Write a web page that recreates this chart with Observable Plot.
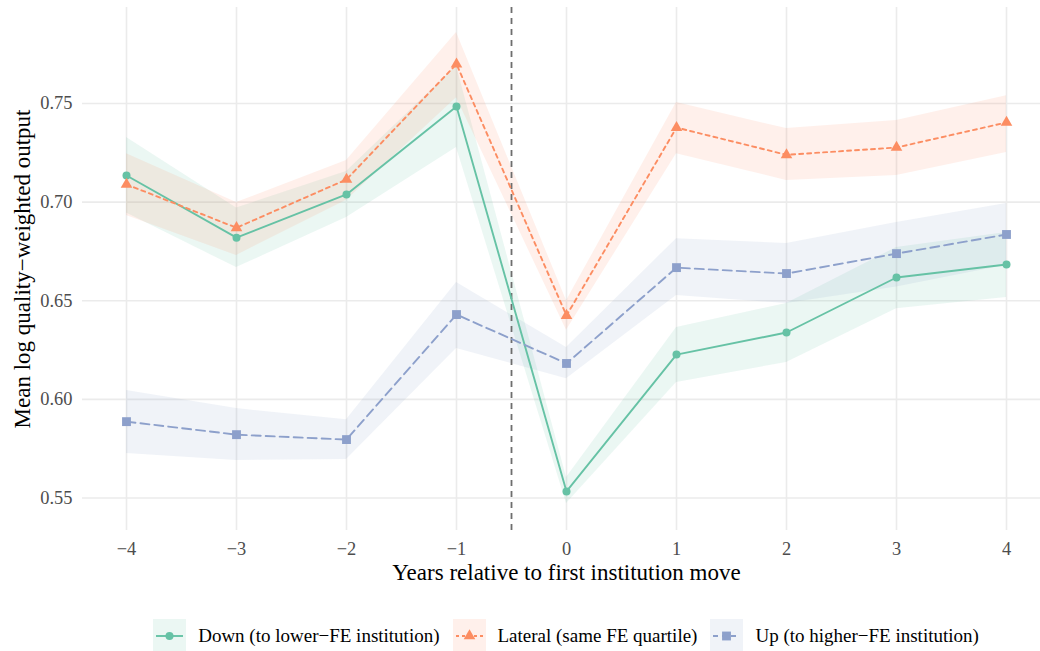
<!DOCTYPE html>
<html><head><meta charset="utf-8">
<script src="https://cdn.jsdelivr.net/npm/d3@7"></script>
<script src="https://cdn.jsdelivr.net/npm/@observablehq/plot@0.6"></script>
<style>
body{margin:0;background:#fff;font-family:"Liberation Serif","Times New Roman",serif;}
#wrap{position:relative;width:1040px;height:651px;overflow:hidden;}
#chart{position:absolute;left:0;top:0;}
#legend{position:absolute;left:0;top:619px;width:1132px;height:34px;display:flex;justify-content:center;align-items:center;font-family:"Liberation Serif","Times New Roman",serif;font-size:19px;color:#000;}
.item{display:flex;align-items:center;margin:0 6.5px;}
.item svg{margin-right:12px;}
</style>
</head><body><div id="wrap"><div id="chart"></div><div id="legend"></div></div>
<script>
const years = [-4, -3, -2, -1, 0, 1, 2, 3, 4];
const seriesNames = ["Down (to lower\u2212FE institution)", "Lateral (same FE quartile)", "Up (to higher\u2212FE institution)"];
const seriesColors = ["#66c2a5", "#fc8d62", "#8da0cb"];

const downMean = [0.7135, 0.682, 0.7039, 0.7485, 0.5533, 0.6227, 0.6339, 0.6618, 0.6684];
const downLo   = [0.6945, 0.6668, 0.6922, 0.7277, 0.5472, 0.6085, 0.6187, 0.646, 0.6516];
const downHi   = [0.7328, 0.697, 0.7156, 0.769, 0.5604, 0.6364, 0.6486, 0.677, 0.6846];

const latMean = [0.709, 0.687, 0.7115, 0.770, 0.6425, 0.7378, 0.724, 0.7277, 0.7404];
const latLo   = [0.6932, 0.673, 0.701, 0.753, 0.635, 0.7246, 0.711, 0.7135, 0.7252];
const latHi   = [0.7246, 0.6998, 0.7211, 0.786, 0.650, 0.7505, 0.7373, 0.7414, 0.754];

const upMean = [0.5887, 0.5821, 0.5796, 0.643, 0.6182, 0.6668, 0.6638, 0.6739, 0.6836];
const upLo   = [0.5725, 0.569, 0.5695, 0.6258, 0.6105, 0.6526, 0.6486, 0.657, 0.668];
const upHi   = [0.6045, 0.5953, 0.5897, 0.6592, 0.6263, 0.6815, 0.679, 0.6897, 0.6993];

const yTicks = [0.55, 0.60, 0.65, 0.70, 0.75];
const moveLine = [-0.5];
const xTitle = "Years relative to first institution move";
const yTitle = "Mean log quality\u2212weighted output";

const series = [
  {name: seriesNames[0], color: seriesColors[0], mean: downMean, lo: downLo, hi: downHi, symbol: "circle", dash: null, r: 4},
  {name: seriesNames[1], color: seriesColors[1], mean: latMean, lo: latLo, hi: latHi, symbol: "triangle", dash: "4,4", r: 4.3},
  {name: seriesNames[2], color: seriesColors[2], mean: upMean, lo: upLo, hi: upHi, symbol: "square", dash: "9,5", r: 5}
];
const rowsOf = s => years.map((t, i) => ({series: s.name, year: t, mean: s.mean[i], lo: s.lo[i], hi: s.hi[i]}));

const fmtX = d => d < 0 ? "\u2212" + Math.abs(d) : String(d);

const marks = [
  Plot.ruleY(yTicks, {stroke: "#ebebeb", strokeWidth: 1.6}),
  Plot.ruleX(years, {stroke: "#ebebeb", strokeWidth: 1.6}),
  ...series.map(s => Plot.areaY(rowsOf(s), {x: "year", y1: "lo", y2: "hi", fill: s.color, fillOpacity: 0.13})),
  Plot.ruleX(moveLine, {stroke: "#6e6e6e", strokeWidth: 1.8, strokeDasharray: "6,5"}),
  ...series.map(s => Plot.line(rowsOf(s), {x: "year", y: "mean", stroke: s.color, strokeWidth: 1.9, strokeDasharray: s.dash})),
  ...series.map(s => Plot.dot(rowsOf(s), {x: "year", y: "mean", fill: s.color, stroke: "none", symbol: () => s.symbol, r: s.r})),
  Plot.axisX(years, {tickSize: 0, tickPadding: 11, tickFormat: fmtX, fontSize: 18.4, fill: "#4d4d4d", label: null}),
  Plot.axisY(yTicks, {tickSize: 0, tickPadding: 10, tickFormat: d3.format(".2f"), fontSize: 18.4, fill: "#4d4d4d", label: null}),
  Plot.text([xTitle], {frameAnchor: "bottom", text: d => d, dy: 42, dx: 5, fontSize: 23, fill: "#000", lineAnchor: "middle", textAnchor: "middle"}),
  Plot.text([yTitle], {frameAnchor: "left", text: d => d, dx: -60, rotate: -90, fontSize: 23, fill: "#000", lineAnchor: "middle", textAnchor: "middle"})
];

const chart = Plot.plot({
  width: 1040,
  height: 600,
  marginLeft: 82,
  marginRight: 0,
  marginTop: 7,
  marginBottom: 70,
  style: {fontFamily: '"Liberation Serif","Times New Roman",serif', background: "#fff", overflow: "visible"},
  x: {domain: [-4.4, 4.309]},
  y: {domain: [0.5335, 0.7987]},
  symbol: {domain: ["circle", "triangle", "square"], range: ["circle", "triangle", "square"]},
  marks
});
document.getElementById("chart").appendChild(chart);

// legend
const legend = document.getElementById("legend");
const symPath = {circle: d3.symbolCircle, triangle: d3.symbolTriangle, square: d3.symbolSquare};
series.forEach(s => {
  const item = document.createElement("div");
  item.className = "item";
  const ns = "http://www.w3.org/2000/svg";
  const svg = document.createElementNS(ns, "svg");
  svg.setAttribute("width", 33); svg.setAttribute("height", 34);
  const rect = document.createElementNS(ns, "rect");
  rect.setAttribute("width", 33); rect.setAttribute("height", 34);
  rect.setAttribute("fill", s.color); rect.setAttribute("fill-opacity", 0.13);
  svg.appendChild(rect);
  const line = document.createElementNS(ns, "line");
  line.setAttribute("x1", 3); line.setAttribute("x2", 30); line.setAttribute("y1", 17); line.setAttribute("y2", 17);
  line.setAttribute("stroke", s.color); line.setAttribute("stroke-width", 1.9);
  if (s.dash) line.setAttribute("stroke-dasharray", s.dash === "9,5" ? "5,4" : "3,3");
  svg.appendChild(line);
  const p = document.createElementNS(ns, "path");
  p.setAttribute("d", d3.symbol(symPath[s.symbol], Math.PI * s.r * s.r)());
  p.setAttribute("transform", "translate(16.5,17)");
  p.setAttribute("fill", s.color);
  svg.appendChild(p);
  item.appendChild(svg);
  const span = document.createElement("span");
  span.textContent = s.name;
  item.appendChild(span);
  legend.appendChild(item);
});
</script>
</body></html>
